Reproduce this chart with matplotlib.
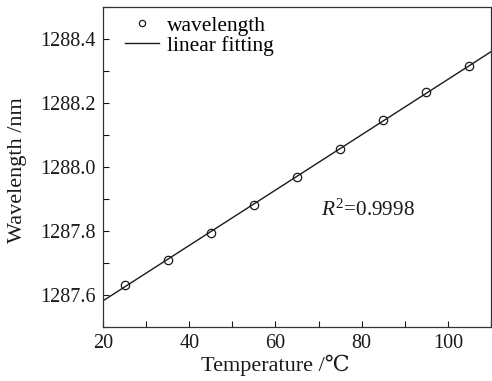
import matplotlib
matplotlib.use('Agg')

import numpy as np
import matplotlib.pyplot as plt
from matplotlib.ticker import MultipleLocator

# measured peak wavelength vs. temperature
temperature = [25, 35, 45, 55, 65, 75, 85, 95, 105]
wavelength = [1287.632, 1287.709, 1287.794, 1287.882, 1287.970,
              1288.057, 1288.147, 1288.233, 1288.316]
r_squared = '0.9998'

plt.rcParams['font.family'] = ['Liberation Serif', 'DejaVu Serif']
plt.rcParams['mathtext.fontset'] = 'custom'
plt.rcParams['mathtext.it'] = 'Liberation Serif:italic'
plt.rcParams['mathtext.rm'] = 'Liberation Serif'

ink = '#1a1a1a'

fig = plt.figure(figsize=(4.92, 3.81), dpi=100)
ax = fig.add_axes([0.2094, 0.1417, 0.7886, 0.8399])

# linear fit over the measured points, drawn across the whole x range
slope, intercept = np.polyfit(temperature, wavelength, 1)
x_fit = np.array([20, 110])
ax.plot(temperature, wavelength, 'o', mfc='none', mec=ink, ms=6, mew=0.9,
        label='wavelength')
ax.plot(x_fit, slope * x_fit + intercept, '-', color=ink, lw=1.0,
        label='linear fitting')

ax.set_xlim(20, 110)
ax.set_ylim(1287.5, 1288.5)
ax.xaxis.set_major_locator(MultipleLocator(20))
ax.xaxis.set_minor_locator(MultipleLocator(10))
ax.yaxis.set_major_locator(MultipleLocator(0.2))
ax.yaxis.set_minor_locator(MultipleLocator(0.1))
ax.yaxis.set_major_formatter(plt.FuncFormatter(lambda v, p: f'{v:.1f}'))
ax.tick_params(which='both', direction='in', length=4, width=0.8,
               labelsize=14.5, colors=ink, pad=5)

for s in ax.spines.values():
    s.set_color('#333333')
    s.set_linewidth(0.9)

ax.set_xlabel('Temperature /\u2103', fontsize=16, color=ink)
ax.set_ylabel('Wavelength /nm', fontsize=16, color=ink)
ax.xaxis.label.set_va('center')
ax.yaxis.label.set_va('center')
ax.xaxis.set_label_coords(0.443, -0.119)
ax.yaxis.set_label_coords(-0.22, 0.49)

ax.text(70.5, 1287.865, r'$R^2$=' + r_squared, fontsize=15.3, color=ink,
        va='center', ha='left')

ax.legend(loc='upper left', frameon=False, fontsize=15.5, handlelength=1.55,
          handletextpad=0.4, borderaxespad=0.0, labelspacing=0.0,
          markerscale=0.75, bbox_to_anchor=(0.035, 1.0))

plt.savefig('out.png', dpi=100)
